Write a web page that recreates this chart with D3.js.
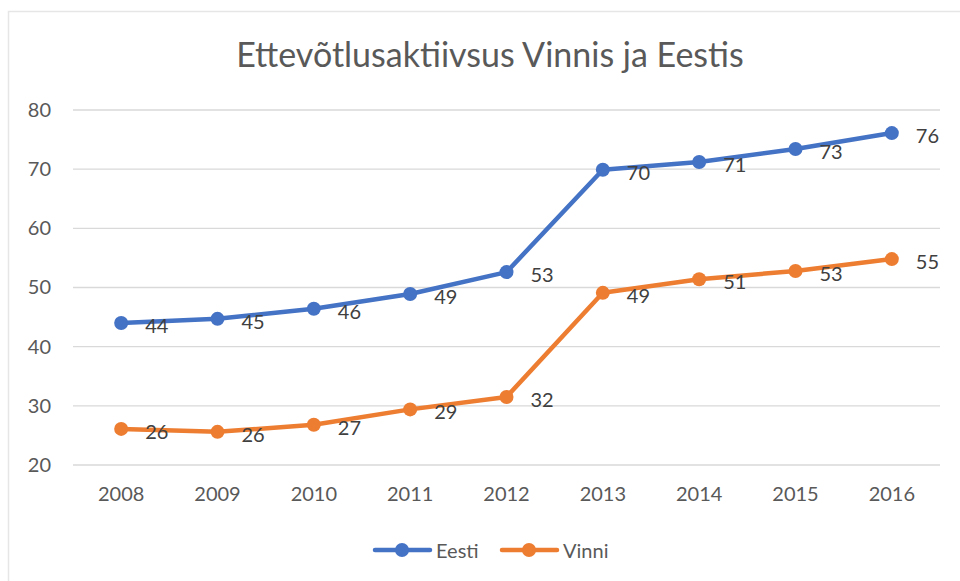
<!DOCTYPE html>
<html>
<head>
<meta charset="utf-8">
<script src="https://cdn.jsdelivr.net/npm/d3@7"></script>
<style>
  body { margin: 0; background: #fff; }
  svg { display: block; font-family: Lato, "Open Sans", sans-serif; }
</style>
</head>
<body>
<svg id="chart" width="960" height="581"></svg>
<script>
const years = ["2008", "2009", "2010", "2011", "2012", "2013", "2014", "2015", "2016"];
const eesti = [44.0, 44.7, 46.4, 48.9, 52.6, 69.9, 71.2, 73.4, 76.1];
const vinni = [26.1, 25.6, 26.8, 29.4, 31.5, 49.1, 51.4, 52.8, 54.8];
const yTicks = [20, 30, 40, 50, 60, 70, 80];

const series = [
  { name: "Eesti", values: eesti, color: "#4472c4" },
  { name: "Vinni", values: vinni, color: "#ed7d31" },
];

const svg = d3.select("#chart");

// chart frame
svg.append("rect")
  .attr("x", 8.5).attr("y", 11.5)
  .attr("width", 960).attr("height", 580)
  .attr("fill", "#fff")
  .attr("stroke", "#e6e6e6")
  .attr("stroke-width", 1.5);

const x = d3.scaleBand().domain(years).range([73, 940]);
const y = d3.scaleLinear().domain([20, 80]).range([465, 110]);

// gridlines
svg.append("g")
  .selectAll("line")
  .data(yTicks)
  .join("line")
  .attr("x1", 73).attr("x2", 940)
  .attr("y1", (d) => y(d)).attr("y2", (d) => y(d))
  .attr("stroke", "#d9d9d9")
  .attr("stroke-width", 1.3);

// y axis labels
const yAxis = svg.append("g")
  .attr("transform", "translate(51,0)")
  .call(d3.axisLeft(y).tickValues(yTicks).tickSize(0).tickPadding(0));
yAxis.select(".domain").remove();
yAxis.selectAll("text")
  .attr("font-size", 20)
  .attr("fill", "#595959")
  .attr("font-family", "Lato, sans-serif");

// x axis labels
const xAxis = svg.append("g")
  .attr("transform", "translate(0,487)")
  .call(d3.axisBottom(x).tickSize(0).tickPadding(0));
xAxis.select(".domain").remove();
xAxis.selectAll("text")
  .attr("font-size", 20)
  .attr("fill", "#595959")
  .attr("font-family", "Lato, sans-serif");

// title
svg.append("text")
  .attr("x", 490).attr("y", 67)
  .attr("text-anchor", "middle")
  .attr("font-size", 34)
  .attr("fill", "#595959")
  .text("Ettevõtlusaktiivsus Vinnis ja Eestis");

const cx = (i) => x(years[i]) + x.bandwidth() / 2;

const line = d3.line()
  .x((d, i) => cx(i))
  .y((d) => y(d));

series.forEach((s) => {
  const g = svg.append("g");
  g.append("path")
    .datum(s.values)
    .attr("d", line)
    .attr("fill", "none")
    .attr("stroke", s.color)
    .attr("stroke-width", 4.5)
    .attr("stroke-linejoin", "round")
    .attr("stroke-linecap", "round");
  g.selectAll("circle")
    .data(s.values)
    .join("circle")
    .attr("cx", (d, i) => cx(i))
    .attr("cy", (d) => y(d))
    .attr("r", 7)
    .attr("fill", s.color);
  g.selectAll("text")
    .data(s.values)
    .join("text")
    .attr("x", (d, i) => cx(i) + 24)
    .attr("y", (d) => y(d) + 2)
    .attr("dominant-baseline", "central")
    .attr("font-size", 20)
    .attr("fill", "#404040")
    .text((d) => Math.round(d));
});

// legend
const legend = svg.append("g").attr("transform", "translate(0,550)");
const legendX = [375, 502];
series.forEach((s, i) => {
  const lg = legend.append("g").attr("transform", `translate(${legendX[i]},0)`);
  lg.append("line")
    .attr("x1", 0).attr("x2", 55)
    .attr("stroke", s.color)
    .attr("stroke-width", 4.5)
    .attr("stroke-linecap", "round");
  lg.append("circle").attr("cx", 27).attr("r", 7).attr("fill", s.color);
  lg.append("text")
    .attr("x", 61).attr("y", 0)
    .attr("dominant-baseline", "central")
    .attr("font-size", 20)
    .attr("fill", "#595959")
    .text(s.name);
});
</script>
</body>
</html>
